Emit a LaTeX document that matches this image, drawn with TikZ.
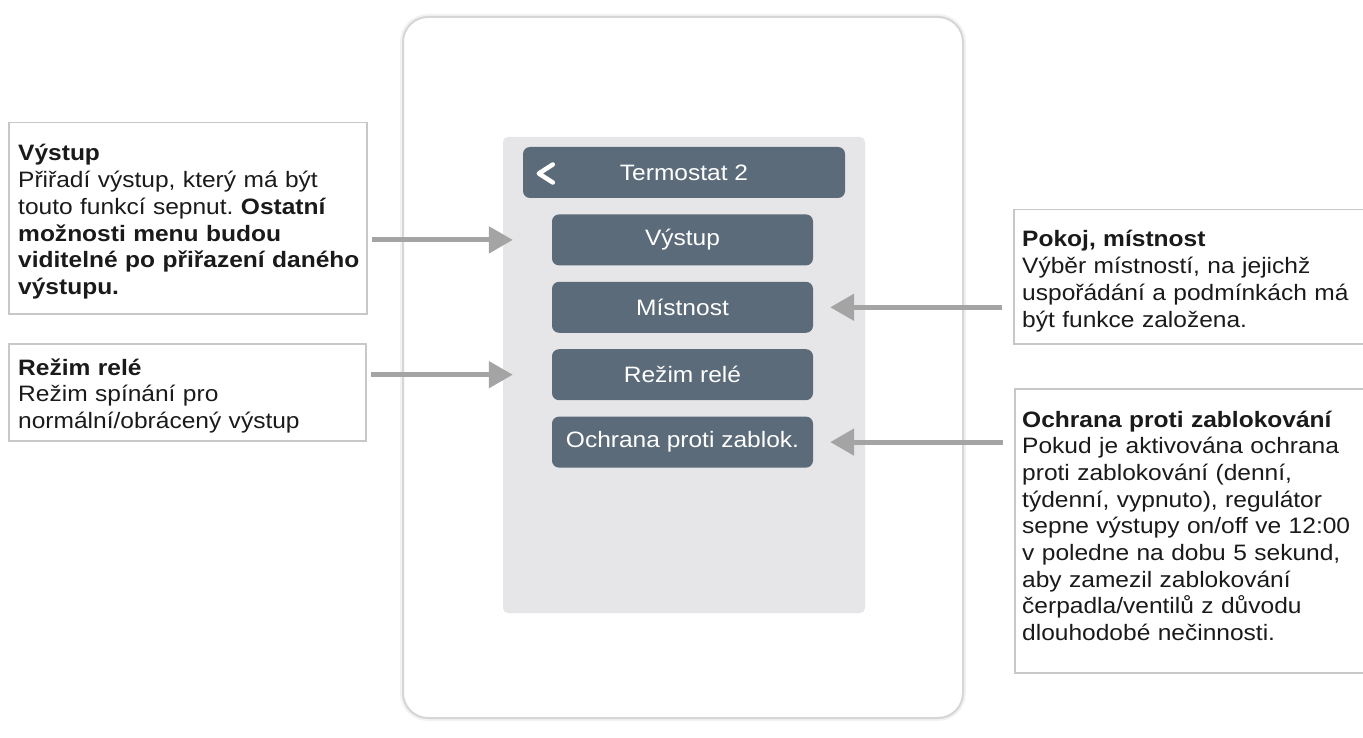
\documentclass[tikz,border=0pt]{standalone}
\usepackage{fontspec}
\setmainfont[FakeStretch=1.1]{Liberation Sans}
\usetikzlibrary{arrows.meta, positioning}
\frenchspacing

\definecolor{btnfill}{RGB}{91,107,121}
\definecolor{screenfill}{RGB}{230,230,232}
\definecolor{framegray}{RGB}{214,214,214}
\definecolor{boxgray}{RGB}{200,200,200}
\definecolor{arrowgray}{RGB}{164,164,164}
\definecolor{notetext}{RGB}{26,26,26}

\tikzset{
  infobox/.style={draw=boxgray, line width=1.5pt, fill=white, anchor=north west, inner sep=0pt},
  infotext/.style={anchor=base west, align=left, inner sep=0pt, text=notetext,
    font=\fontsize{22.3}{26.7}\selectfont},
  menubtn/.style={fill=btnfill, rounded corners=7pt, minimum width=261pt, minimum height=51pt,
    text=white, inner sep=0pt, font=\fontsize{22.3}{24}\selectfont},
  pointer/.style={draw=arrowgray, line width=5pt, -{Triangle[length=24pt,width=26pt]}},
}

\begin{document}
\begin{tikzpicture}[x=1pt, y=-1pt]
\clip (0,0) rectangle (1363,738);

% device frame and screen
\node[draw=black!5, line width=6pt, rounded corners=25pt, minimum width=560pt, minimum height=701pt] (shadow) at (683,367.5) {};
\node[draw=framegray, line width=2pt, fill=white, rounded corners=25pt, minimum width=560pt, minimum height=701pt] (device) at (683,367.5) {};
\node[fill=screenfill, rounded corners=5pt, minimum width=362pt, minimum height=476pt, inner sep=0pt] (screen) at (684,375) {};

% menu
\node[menubtn, minimum width=322pt] (header) at (684,172.5) {Termostat 2};
\draw[white, line width=4.5pt, line cap=round, line join=round]
  ([shift={(30,-8)}]header.west) -- ([shift={(16,1)}]header.west) -- ([shift={(30,10)}]header.west);
\node[menubtn, below=16pt of header, xshift=-1.5pt] (outBtn) {Výstup};
\node[menubtn, below=16pt of outBtn] (roomBtn) {Místnost};
\node[menubtn, below=16pt of roomBtn] (modeBtn) {Režim relé};
\node[menubtn, below=16pt of modeBtn] (lockBtn) {Ochrana proti zablok.};

% left notes
\node[infobox, minimum width=358pt, minimum height=191pt] (leftOutBox) at (8,122) {};
\node[infotext, text width=352pt] (leftOutText) at ([shift={(10,39)}]leftOutBox.north west)
  {\textbf{Výstup}\\
   Přiřadí výstup, který má být\\
   touto funkcí sepnut. \textbf{Ostatní}\\
   \textbf{možnosti menu budou}\\
   \textbf{viditelné po přiřazení daného}\\
   \textbf{výstupu.}};

\node[infobox, minimum width=357pt, minimum height=97pt] (leftModeBox) at (8,343) {};
\node[infotext, text width=340pt] (leftModeText) at ([shift={(10,32)}]leftModeBox.north west)
  {\textbf{Režim relé}\\
   Režim spínání pro\\
   normální/obrácený výstup};

% right notes
\node[infobox, minimum width=360pt, minimum height=134pt] (rightRoomBox) at (1013,209) {};
\node[infotext, text width=345pt] (rightRoomText) at ([shift={(9,38)}]rightRoomBox.north west)
  {\textbf{Pokoj, místnost}\\
   Výběr místností, na jejichž\\
   uspořádání a podmínkách má\\
   být funkce založena.};

\node[infobox, minimum width=360pt, minimum height=284pt] (rightLockBox) at (1014,388) {};
\node[infotext, text width=345pt] (rightLockText) at ([shift={(8,39)}]rightLockBox.north west)
  {\textbf{Ochrana proti zablokování}\\
   Pokud je aktivována ochrana\\
   proti zablokování (denní,\\
   týdenní, vypnuto), regulátor\\
   sepne výstupy on/off ve 12:00\\
   v poledne na dobu 5 sekund,\\
   aby zamezil zablokování\\
   čerpadla/ventilů z důvodu\\
   dlouhodobé nečinnosti.};

% pointers
\draw[pointer, shorten <=4pt, shorten >=39pt] (leftOutBox.east |- outBtn.west) -- (outBtn.west);
\draw[pointer, shorten <=4pt, shorten >=39pt] (leftModeBox.east |- modeBtn.west) -- (modeBtn.west);
\draw[pointer, shorten <=11pt, shorten >=17pt] (rightRoomBox.west |- roomBtn.east) -- (roomBtn.east);
\draw[pointer, shorten <=11pt, shorten >=17pt] (rightLockBox.west |- lockBtn.east) -- (lockBtn.east);

\end{tikzpicture}
\end{document}
